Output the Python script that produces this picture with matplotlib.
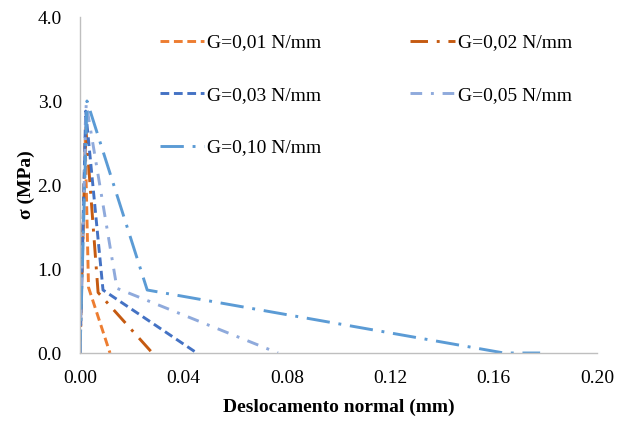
import matplotlib
matplotlib.use("Agg")
import matplotlib.pyplot as plt

plt.rcParams['font.family'] = ['Liberation Serif', 'DejaVu Serif']

labels = ["G=0,01 N/mm", "G=0,02 N/mm", "G=0,03 N/mm", "G=0,05 N/mm", "G=0,10 N/mm"]
x_001 = [0, 0.0020, 0.0033, 0.0116]
y_001 = [0, 2.55, 0.78, 0]
x_002 = [0, 0.0022, 0.0070, 0.0280]
y_002 = [0, 2.70, 0.72, 0]
x_003 = [0, 0.0022, 0.0089, 0.0452]
y_003 = [0, 2.88, 0.75, 0]
x_005 = [0, 0.0024, 0.0143, 0.0766]
y_005 = [0, 2.97, 0.77, 0]
x_010 = [0, 0.0027, 0.0260, 0.1640, 0.1780]
y_010 = [0, 3.00, 0.75, 0, 0]

xticks = [0.00, 0.04, 0.08, 0.12, 0.16, 0.20]
yticks = [0.0, 1.0, 2.0, 3.0, 4.0]

fig = plt.figure(figsize=(6.19, 4.21), dpi=100)
ax = fig.add_axes([80/619, 1-353/421, (597-80)/619, (353-17)/421])

lw = 2.1
h1, = ax.plot(x_001, y_001, color='#ED7D31', lw=lw, dashes=(3, 1.6), label=labels[0])
h2, = ax.plot(x_002, y_002, color='#C55A11', lw=lw, dashes=(6, 3, 1, 3), label=labels[1])
h3, = ax.plot(x_003, y_003, color='#4472C4', lw=lw, dashes=(3, 1.6), label=labels[2])
h4, = ax.plot(x_005, y_005, color='#8FAADC', lw=lw, dashes=(4, 3, 1, 3), label=labels[3])
h5, = ax.plot(x_010, y_010, color='#5B9BD5', lw=lw, dashes=(8, 3, 1, 3), label=labels[4])

ax.set_xlim(0, 0.20)
ax.set_ylim(0, 4.0)
ax.set_xticks(xticks)
ax.set_yticks(yticks)
ax.set_xticklabels([f"{v:.2f}" for v in xticks])
ax.set_yticklabels([f"{v:.1f}" for v in yticks])
ax.tick_params(length=0, labelsize=14)
ax.tick_params(axis='y', pad=13)
ax.tick_params(axis='x', pad=12)
for s in ['top', 'right']:
    ax.spines[s].set_visible(False)
for s in ['left', 'bottom']:
    ax.spines[s].set_color('#BFBFBF')
    ax.spines[s].set_linewidth(1.0)

ax.set_xlabel("Deslocamento normal (mm)", fontsize=14, fontweight='bold', labelpad=9)
ax.set_ylabel("σ (MPa)", fontsize=14, fontweight='bold', labelpad=2)

leg = fig.legend([h1, h3, h5, h2, h4], [labels[0], labels[2], labels[4], labels[1], labels[3]],
                 ncol=2, loc='upper left', bbox_to_anchor=(150/619, 1-24/421),
                 frameon=False, fontsize=14, handlelength=2.3, handletextpad=0.15,
                 columnspacing=4.55, labelspacing=1.8, borderpad=0)

fig.savefig("out.png", dpi=100)
